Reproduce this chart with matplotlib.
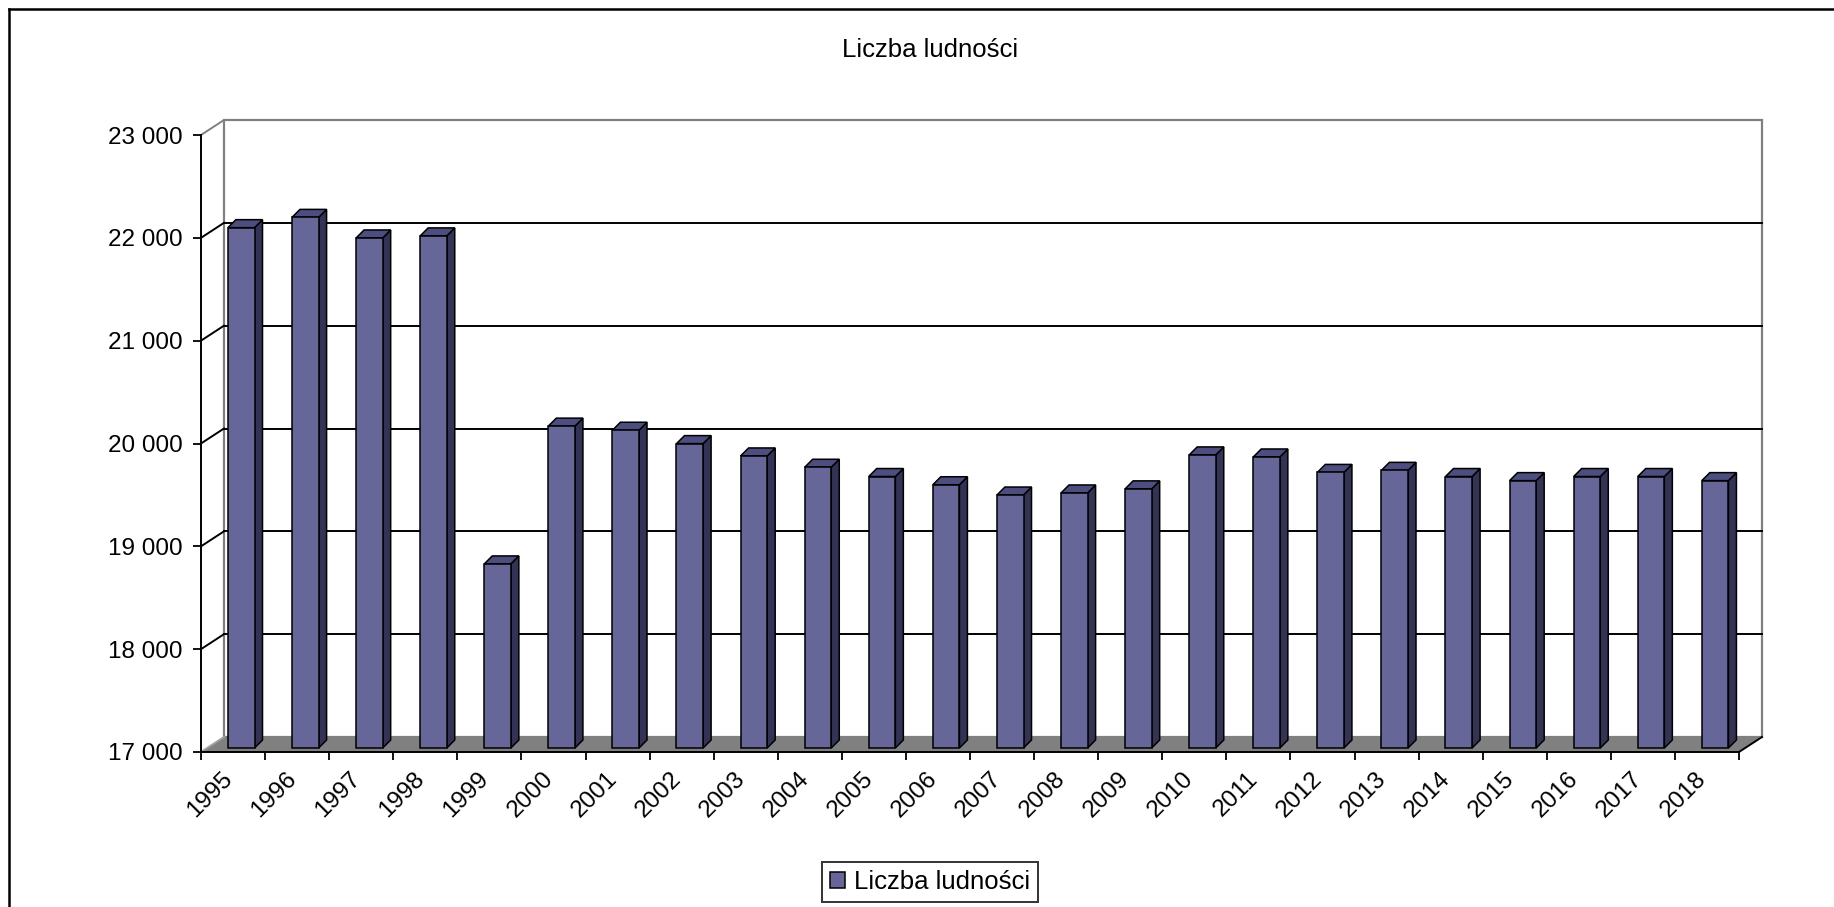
import numpy as np
import matplotlib
matplotlib.use('Agg')
import matplotlib.pyplot as plt
from matplotlib.patches import Polygon
from matplotlib.lines import Line2D
import matplotlib.transforms as mtransforms

plt.rcParams['font.family'] = ['Liberation Sans', 'DejaVu Sans']

# data
years = [str(y) for y in range(1995, 2019)]
population = [22060, 22160, 21960, 21980, 18790, 20130, 20090, 19960,
              19840, 19730, 19640, 19560, 19460, 19480, 19520, 19850,
              19830, 19680, 19700, 19640, 19600, 19640, 19640, 19600]
y_ticks = [17000, 18000, 19000, 20000, 21000, 22000, 23000]
series_name = 'Liczba ludności'

W, H = 1834, 907
fig = plt.figure(figsize=(W / 100, H / 100), dpi=100)
fig.patch.set_facecolor('white')

ax = fig.add_axes([201 / W, 155 / H, 1538 / W, 617 / H])
ax.set_facecolor('none')
n = len(years)
ax.set_xlim(0, n)
ax.set_ylim(17000, 23000)

# pixel -> data conversion for the fake 3d offsets
kx = n / ax.bbox.width
ky = 6000 / ax.bbox.height
DX, DY = 23, 15       # wall depth in px
BDX, BDY = 8, 8       # bar depth in px
BUP = 4               # bar plane lift in px


def off(x, y, dx, dy):
    return (x + dx * kx, y + dy * ky)


# back wall
wall = Polygon([off(0, 17000, DX, DY), off(n, 17000, DX, DY),
                off(n, 23000, DX, DY), off(0, 23000, DX, DY)],
               closed=True, facecolor='white', edgecolor='#808080',
               lw=1.6, zorder=0, clip_on=False)
ax.add_patch(wall)

# gridlines on the wall and the side diagonals
for v in y_ticks[1:]:
    c = '#808080' if v == 23000 else 'black'
    if v != 23000:
        p0, p1 = off(0, v, DX, DY), off(n, v, DX, DY)
        ax.add_line(Line2D([p0[0], p1[0]], [p0[1], p1[1]], color='black',
                           lw=1.4, zorder=1, clip_on=False))
    q = off(0, v, DX, DY)
    ax.add_line(Line2D([0, q[0]], [v, q[1]], color=c, lw=1.4,
                       zorder=1, clip_on=False))

# floor
floor = Polygon([(0, 17000), (n, 17000), off(n, 17000, DX, DY),
                 off(0, 17000, DX, DY)], closed=True,
                facecolor='#808080', edgecolor='none', zorder=2, clip_on=False)
ax.add_patch(floor)
q = off(0, 17000, DX, DY)
ax.add_line(Line2D([0, q[0]], [17000, q[1]], color='#a0a0a0', lw=1.4,
                   zorder=2, clip_on=False))
q = off(n, 17000, DX, DY)
ax.add_line(Line2D([n, q[0]], [17000, q[1]], color='black', lw=1.4,
                   zorder=2, clip_on=False))

# bars
a, w = 0.42, 0.415
x0 = np.arange(n) + a
base = 17000 + BUP * ky
vals = np.array(population) + BUP * ky
ax.bar(x0, vals - base, bottom=base, width=w, align='edge',
       color='#666699', edgecolor='black', lw=1.1, zorder=4,
       label=series_name, clip_on=False)
for xl, t in zip(x0, vals):
    xr = xl + w
    side = Polygon([(xr, base), off(xr, base, BDX, BDY),
                    off(xr, t, BDX, BDY), (xr, t)], closed=True,
                   facecolor='#333355', edgecolor='black', lw=1.1,
                   zorder=3, clip_on=False)
    top = Polygon([(xl, t), (xr, t), off(xr, t, BDX, BDY),
                   off(xl, t, BDX, BDY)], closed=True,
                  facecolor='#4d4d80', edgecolor='black', lw=1.1,
                  zorder=3, clip_on=False)
    ax.add_patch(side)
    ax.add_patch(top)

# axes styling
for s in ['top', 'right']:
    ax.spines[s].set_visible(False)
for s in ['left', 'bottom']:
    ax.spines[s].set_linewidth(1.4)
    ax.spines[s].set_zorder(5)

ax.set_yticks(y_ticks)
ax.set_yticklabels([f'{v:,}'.replace(',', ' ') for v in y_ticks])
ax.tick_params(axis='y', direction='out', length=6, width=1.3,
               labelsize=17.5, pad=7)

ax.set_xticks(np.arange(n) + 0.5)
ax.set_xticklabels(years)
ax.set_xticks(np.arange(n + 1), minor=True)
ax.tick_params(axis='x', which='major', length=0, labelsize=17.5, pad=17)
ax.tick_params(axis='x', which='minor', direction='out', length=6, width=1.3)
shift = mtransforms.Affine2D().translate(-4, 0)
for lab in ax.get_xticklabels():
    lab.set_rotation(45)
    lab.set_ha('right')
    lab.set_va('center')
    lab.set_rotation_mode('anchor')
    lab.set_transform(lab.get_transform() + shift)

# title and legend
fig.text(930 / W, 1 - 50 / H, 'Liczba ludności', ha='center', va='center',
         fontsize=18.5)
leg = fig.legend(loc='center', bbox_to_anchor=(930 / W, 1 - 882 / H),
                 fontsize=18.5, frameon=True, fancybox=False,
                 handlelength=0.6, handleheight=0.6, handletextpad=0.35,
                 borderpad=0.3, borderaxespad=0)
leg.get_frame().set_edgecolor('black')
leg.get_frame().set_linewidth(1.4)

# outer chart border (runs off right and bottom)
fig.add_artist(Line2D([9 / W, 9 / W], [0, 1 - 9 / H], color='black', lw=1.8,
                      transform=fig.transFigure))
fig.add_artist(Line2D([9 / W, 1], [1 - 9 / H, 1 - 9 / H], color='black',
                      lw=1.8, transform=fig.transFigure))

fig.savefig('out.png', dpi=100)
